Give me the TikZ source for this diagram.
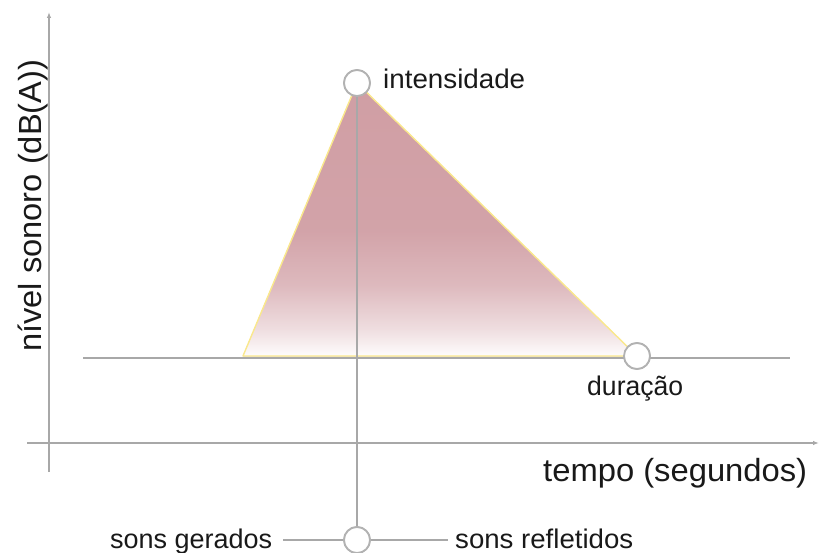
\documentclass[tikz,border=0pt]{standalone}
\usepackage{graphicx}
\usepackage{fontspec}
\setmainfont{Liberation Sans}
\usetikzlibrary{arrows.meta}
\definecolor{axisgray}{RGB}{168,168,168}
\definecolor{circgray}{RGB}{178,178,178}
\definecolor{pinkc}{RGB}{208,158,164}
\definecolor{edgey}{RGB}{250,232,140}
\definecolor{txt}{RGB}{25,25,25}
\pgfdeclareverticalshading{trishade}{100bp}{color(0bp)=(pinkc!3!white); color(25bp)=(pinkc!3!white); color(30bp)=(pinkc!35!white); color(38bp)=(pinkc!72!white); color(48bp)=(pinkc!95!white); color(75bp)=(pinkc); color(100bp)=(pinkc)}
\newcommand\fitto[2]{\resizebox{#1}{\height}{#2}}
\begin{document}
\begin{tikzpicture}[x=1pt,y=-1pt,
  gline/.style={draw=axisgray,line width=1.6pt},
  dot/.style={circle,draw=circgray,fill=white,line width=1.8pt,minimum size=26pt,inner sep=0pt},
  lbl/.style={inner sep=0pt,text=txt,font=\fontsize{27}{30}\selectfont},
  biglbl/.style={inner sep=0pt,text=txt,font=\fontsize{32}{36}\selectfont},
  axarrow/.style={gline,-{Latex[length=6pt,width=4.5pt]}}]
\useasboundingbox (0,0) rectangle (821,553);
% coordinates
\coordinate (tl) at (243,356);
\coordinate (bl) at (83,358);
\coordinate (br) at (790,358);
\coordinate (ya0) at (49,472);
\coordinate (ya1) at (49,12);
\coordinate (xa0) at (27,443);
\coordinate (xa1) at (819,443);
\coordinate (sgend) at (283,540);
\coordinate (srend) at (448,540);
% circles placed (drawn later)
\path node[dot] (top) at (357,83) {}
      node[dot] (dur) at (637,356) {}
      node[dot] (bot) at (357,540) {};
% triangle
\fill[shading=trishade] (tl) -- (top.center) -- (dur.center) -- cycle;
\draw[edgey,line width=1.4pt,line join=round] (tl) -- (top.center) -- (dur.center) -- cycle;
% lines
\draw[gline] (bl) -- (br);
\draw[axarrow] (ya0) -- (ya1);
\draw[axarrow] (xa0) -- (xa1);
\draw[gline] (top.center) -- (bot.center);
\draw[gline] (sgend) -- (bot.center);
\draw[gline] (bot.center) -- (srend);
% circles on top
\node[dot] at (top) {};
\node[dot] at (dur) {};
\node[dot] at (bot) {};
% labels
\node[lbl,anchor=base west] (int) at (383,89) {\fitto{142pt}{intensidade}};
\node[lbl,anchor=base west] (dlbl) at (587,395) {\fitto{96pt}{duração}};
\node[lbl,anchor=base west] (sg) at (110,548) {\fitto{162pt}{sons gerados}};
\node[lbl,anchor=base west] (sr) at (455,548) {\fitto{178pt}{sons refletidos}};
\node[biglbl,anchor=base west] (xl) at (543,481) {\fitto{264pt}{tempo (segundos)}};
\node[biglbl,anchor=base west,rotate=90] (yl) at (41,352) {\fitto{292pt}{nível sonoro (dB(A))}};
\end{tikzpicture}
\end{document}
